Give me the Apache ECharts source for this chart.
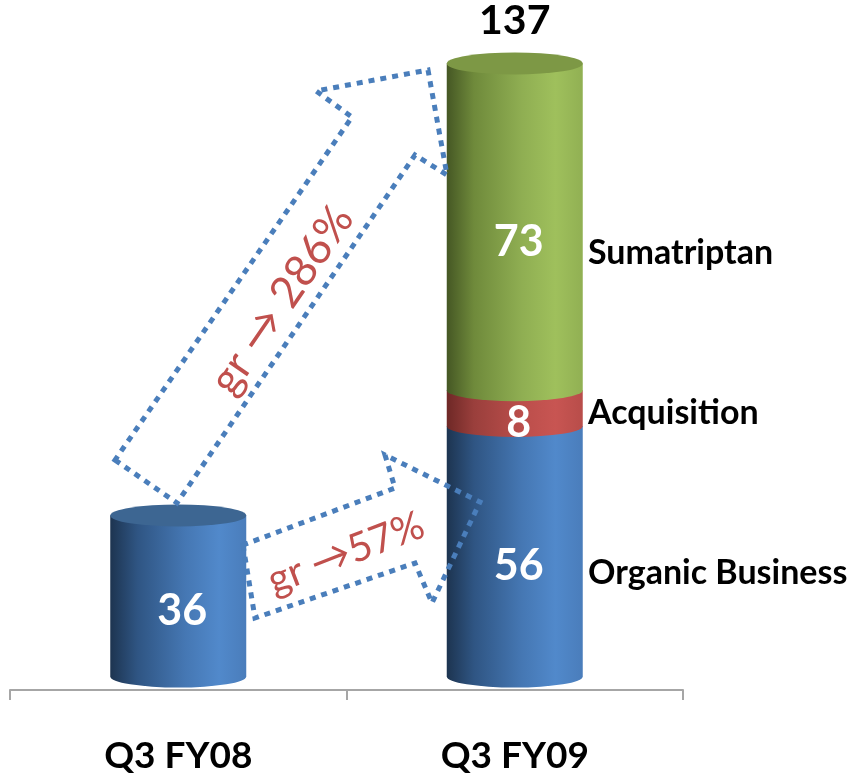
<!DOCTYPE html>
<html>
<head>
<meta charset="utf-8">
<script src="https://cdn.jsdelivr.net/npm/echarts@6/dist/echarts.min.js"></script>
<style>
  html, body { margin: 0; padding: 0; background: #fff; }
  #root { width: 854px; height: 775px; }
</style>
</head>
<body>
<div id="root"></div>
<script>
var categories = ['Q3 FY08', 'Q3 FY09']
var seriesNames = ['Organic Business', 'Acquisition', 'Sumatriptan']
var organic = [36, 56]
var acquisition = [0, 8]
var sumatriptan = [0, 73]
var growthLabels = ['gr \u2192 286%', 'gr \u219257%']

var FONT = 'Lato, "Open Sans", sans-serif'
var RX = 68, RY = 11

// side shading for each segment, dark on the left, light toward the right
var shades = [
  { body: ['#1d3450', '#2f5583', '#4577b3', '#5189cb', '#4a7dbb'], top: '#3d6692' },
  { body: ['#6e2826', '#9a3f3c', '#bb4e4b', '#c85552', '#b84d4a'], top: '#a84441' },
  { body: ['#455724', '#6f8a3b', '#8fae52', '#9fc05c', '#91b053'], top: '#7d9845' }
]

var columns = [organic, acquisition, sumatriptan]
var totals = categories.map(function (c, i) {
  return columns.reduce(function (s, col) { return s + col[i] }, 0)
})
var segCount = categories.map(function (c, i) {
  return columns.filter(function (col) { return col[i] > 0 }).length
})

function segData(k) {
  var out = []
  categories.forEach(function (c, i) {
    var start = 0
    for (var j = 0; j < k; j++) start += columns[j][i]
    if (columns[k][i] > 0) out.push([i, start, start + columns[k][i]])
  })
  return out
}

function grad(stops) {
  return {
    type: 'linear', x: 0, y: 0, x2: 1, y2: 0,
    colorStops: stops.map(function (c, i) { return { offset: [0, 0.2, 0.55, 0.8, 1][i], color: c } })
  }
}

function cylinder(k) {
  return function (params, api) {
    var ci = api.value(0)
    var x = api.coord([ci, 0])[0]
    var yB = api.coord([ci, api.value(1)])[1]
    var yT = api.coord([ci, api.value(2)])[1]
    var kids = [{
      type: 'path',
      shape: {
        pathData: 'M' + (x - RX) + ',' + yT + ' L' + (x - RX) + ',' + yB +
          ' A' + RX + ',' + RY + ' 0 0 0 ' + (x + RX) + ',' + yB +
          ' L' + (x + RX) + ',' + yT + ' Z'
      },
      style: { fill: grad(shades[k].body) }
    }]
    if (api.value(2) === totals[ci]) {
      kids.push({
        type: 'path',
        shape: {
          pathData: 'M' + (x - RX) + ',' + yT + ' A' + RX + ',' + RY + ' 0 1 0 ' + (x + RX) + ',' + yT +
            ' A' + RX + ',' + RY + ' 0 1 0 ' + (x - RX) + ',' + yT + ' Z'
        },
        style: { fill: shades[k].top }
      })
      if (segCount[ci] > 1) {
        kids.push({
          type: 'text',
          style: {
            text: String(totals[ci]), x: x, y: yT - 43, align: 'center', verticalAlign: 'middle',
            font: 'bold 41px ' + FONT, fill: '#000'
          }
        })
      }
    }
    kids.push({
      type: 'text',
      style: {
        text: String(api.value(2) - api.value(1)), x: x + 4, y: (yT + yB) / 2 + RY + 4,
        align: 'center', verticalAlign: 'middle', font: 'bold 43px ' + FONT, fill: '#fff'
      }
    })
    return { type: 'group', children: kids }
  }
}

var dotted = { stroke: '#4a7ebb', fill: 'none', lineWidth: 5, lineDash: [6, 6] }

var chart = echarts.init(document.getElementById('root'))
chart.setOption({
  backgroundColor: '#fff',
  animation: false,
  grid: { left: 10, right: 171, top: 50, bottom: 85 },
  legend: {
    data: seriesNames.slice().reverse(),
    orient: 'vertical',
    left: 578, top: 228,
    icon: 'rect', itemWidth: 0, itemHeight: 0, itemGap: 120,
    selectedMode: false,
    textStyle: { color: '#000', fontSize: 34, fontWeight: 'bold', fontFamily: FONT, lineHeight: 40 }
  },
  xAxis: {
    type: 'category',
    data: categories,
    axisLine: { onZero: false, lineStyle: { color: '#a6a6a6', width: 2 } },
    axisTick: { show: true, length: 10, lineStyle: { color: '#a6a6a6', width: 2 } },
    axisLabel: { margin: 48, color: '#000', fontSize: 37, fontWeight: 'bold', fontFamily: FONT }
  },
  yAxis: { type: 'value', min: -3, max: 140, show: false, splitLine: { show: false } },
  series: seriesNames.map(function (name, k) {
    return {
      type: 'custom', name: name, renderItem: cylinder(k), data: segData(k), z: 2 + k,
      itemStyle: { color: shades[k].body[2] }
    }
  }),
  graphic: [
    {
      type: 'polygon', z: 100,
      shape: { points: [[115, 460], [177, 503], [415, 155], [447, 175], [428, 70], [316, 91], [352, 117]] },
      style: dotted
    },
    {
      type: 'polygon', z: 100,
      shape: { points: [[243, 545], [255, 618], [415, 563], [432, 603], [480, 502], [385, 455], [395, 488]] },
      style: dotted
    },
    {
      type: 'text', z: 101, x: 282, y: 300, rotation: 55.5 * Math.PI / 180,
      style: { text: growthLabels[0], align: 'center', verticalAlign: 'middle', font: '44px ' + FONT, fill: '#c0504d' }
    },
    {
      type: 'text', z: 101, x: 346, y: 553, rotation: 21 * Math.PI / 180,
      style: { text: growthLabels[1], align: 'center', verticalAlign: 'middle', font: '40px ' + FONT, fill: '#c0504d' }
    }
  ]
})
</script>
</body>
</html>
